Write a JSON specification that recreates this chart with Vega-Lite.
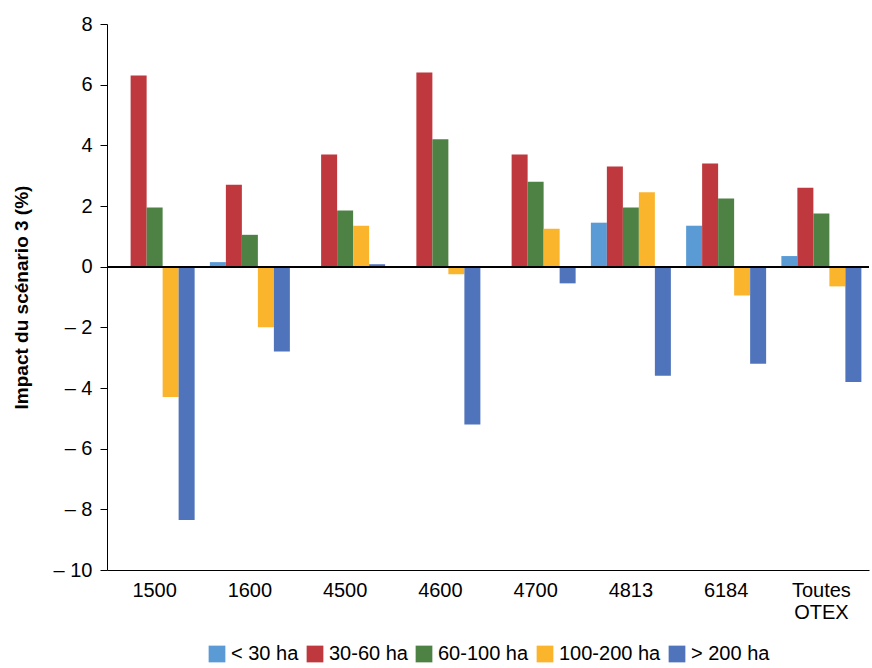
{
  "$schema": "https://vega.github.io/schema/vega-lite/v6.json",
  "autosize": {"type": "fit", "contains": "padding"},
  "width": 872,
  "height": 668,
  "config": {
    "font": "Liberation Sans",
    "view": {"stroke": null},
    "axis": {"grid": false, "domainColor": "black", "tickColor": "black", "labelColor": "black", "labelFontSize": 20, "titleColor": "black"},
    "legend": {"labelFontSize": 20, "labelColor": "black", "layout": {"bottom": {"anchor": "middle"}}}
  },
  "padding": {"left": 12, "top": 14, "right": 2, "bottom": 4},
  "data": {
    "values": [
      {"otex": "1500", "classe": "< 30 ha", "v": 0},
      {"otex": "1500", "classe": "30-60 ha", "v": 6.3},
      {"otex": "1500", "classe": "60-100 ha", "v": 1.95},
      {"otex": "1500", "classe": "100-200 ha", "v": -4.3},
      {"otex": "1500", "classe": "> 200 ha", "v": -8.35},
      {"otex": "1600", "classe": "< 30 ha", "v": 0.15},
      {"otex": "1600", "classe": "30-60 ha", "v": 2.7},
      {"otex": "1600", "classe": "60-100 ha", "v": 1.05},
      {"otex": "1600", "classe": "100-200 ha", "v": -2.0},
      {"otex": "1600", "classe": "> 200 ha", "v": -2.8},
      {"otex": "4500", "classe": "< 30 ha", "v": 0},
      {"otex": "4500", "classe": "30-60 ha", "v": 3.7},
      {"otex": "4500", "classe": "60-100 ha", "v": 1.85},
      {"otex": "4500", "classe": "100-200 ha", "v": 1.35},
      {"otex": "4500", "classe": "> 200 ha", "v": 0.08},
      {"otex": "4600", "classe": "< 30 ha", "v": 0},
      {"otex": "4600", "classe": "30-60 ha", "v": 6.4},
      {"otex": "4600", "classe": "60-100 ha", "v": 4.2},
      {"otex": "4600", "classe": "100-200 ha", "v": -0.25},
      {"otex": "4600", "classe": "> 200 ha", "v": -5.2},
      {"otex": "4700", "classe": "< 30 ha", "v": 0},
      {"otex": "4700", "classe": "30-60 ha", "v": 3.7},
      {"otex": "4700", "classe": "60-100 ha", "v": 2.8},
      {"otex": "4700", "classe": "100-200 ha", "v": 1.25},
      {"otex": "4700", "classe": "> 200 ha", "v": -0.55},
      {"otex": "4813", "classe": "< 30 ha", "v": 1.45},
      {"otex": "4813", "classe": "30-60 ha", "v": 3.3},
      {"otex": "4813", "classe": "60-100 ha", "v": 1.95},
      {"otex": "4813", "classe": "100-200 ha", "v": 2.45},
      {"otex": "4813", "classe": "> 200 ha", "v": -3.6},
      {"otex": "6184", "classe": "< 30 ha", "v": 1.35},
      {"otex": "6184", "classe": "30-60 ha", "v": 3.4},
      {"otex": "6184", "classe": "60-100 ha", "v": 2.25},
      {"otex": "6184", "classe": "100-200 ha", "v": -0.95},
      {"otex": "6184", "classe": "> 200 ha", "v": -3.2},
      {"otex": "Toutes OTEX", "classe": "< 30 ha", "v": 0.35},
      {"otex": "Toutes OTEX", "classe": "30-60 ha", "v": 2.6},
      {"otex": "Toutes OTEX", "classe": "60-100 ha", "v": 1.75},
      {"otex": "Toutes OTEX", "classe": "100-200 ha", "v": -0.65},
      {"otex": "Toutes OTEX", "classe": "> 200 ha", "v": -3.8}
    ]
  },
  "layer": [
    {
      "mark": {"type": "bar"},
      "encoding": {
        "x": {
          "field": "otex", "type": "nominal", "title": null,
          "scale": {"paddingInner": 0.16, "paddingOuter": 0.08},
          "axis": {"labelAngle": 0, "ticks": false, "labelPadding": 10, "labelExpr": "datum.label == 'Toutes OTEX' ? ['Toutes', 'OTEX'] : datum.label", "labelAlign": "center", "labelLineHeight": 22}
        },
        "xOffset": {"field": "classe", "type": "nominal", "sort": ["< 30 ha", "30-60 ha", "60-100 ha", "100-200 ha", "> 200 ha"], "scale": {"paddingInner": 0}},
        "y": {
          "field": "v", "type": "quantitative", "title": "Impact du scénario 3 (%)",
          "scale": {"domain": [-10, 8], "nice": false},
          "axis": {"values": [-10, -8, -6, -4, -2, 0, 2, 4, 6, 8], "titleFontSize": 19, "titleFontWeight": "bold", "titlePadding": 22, "tickSize": 7, "labelPadding": 8,
                   "labelExpr": "datum.value < 0 ? '– ' + abs(datum.value) : datum.value"}
        },
        "color": {
          "field": "classe", "type": "nominal",
          "sort": ["< 30 ha", "30-60 ha", "60-100 ha", "100-200 ha", "> 200 ha"],
          "scale": {"domain": ["< 30 ha", "30-60 ha", "60-100 ha", "100-200 ha", "> 200 ha"],
                    "range": ["#5b9bd5", "#be383d", "#4e8244", "#fbb52c", "#4f74bb"]},
          "legend": {"orient": "bottom", "direction": "horizontal", "title": null, "symbolType": "square", "symbolSize": 280, "symbolStrokeWidth": 0, "symbolOpacity": 1, "columnPadding": 6, "labelOffset": 4, "offset": 22}
        }
      }
    },
    {
      "mark": {"type": "rule", "color": "black", "strokeWidth": 1},
      "encoding": {"y": {"datum": 0, "type": "quantitative"}}
    }
  ]
}
